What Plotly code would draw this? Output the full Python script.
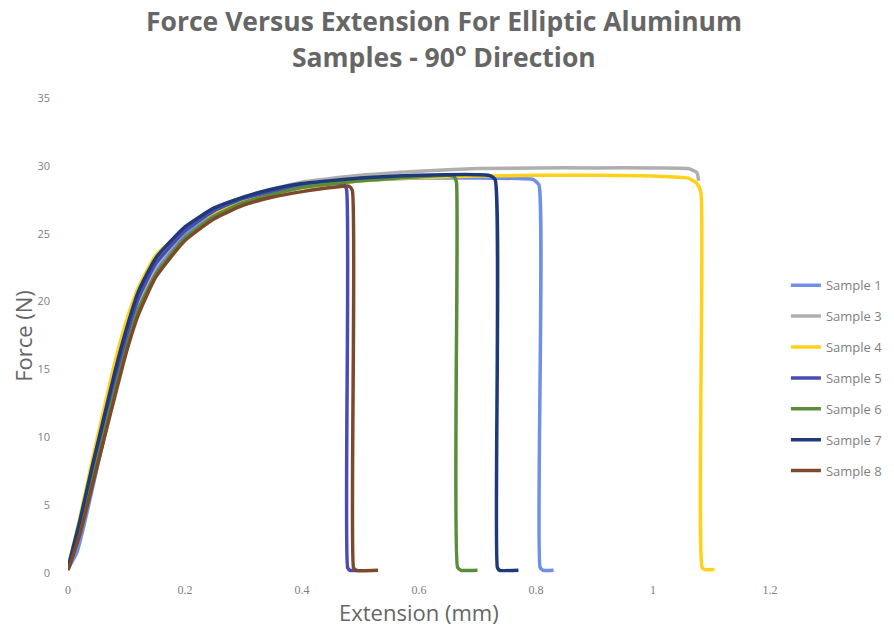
import plotly.graph_objects as go

# ---- data ----
names = ["Sample 1", "Sample 3", "Sample 4", "Sample 5", "Sample 6", "Sample 7", "Sample 8"]
colors = ["#6F8FE8", "#AFAFAF", "#FFD21A", "#4B4BB8", "#5B8C3A", "#1F3A78", "#7B4A2A"]

x1 = [0, 0.015, 0.03, 0.05, 0.07, 0.09, 0.11, 0.13, 0.16, 0.20, 0.25, 0.30, 0.35, 0.40, 0.50, 0.60, 0.70, 0.78, 0.795, 0.805, 0.807, 0.812, 0.83]
y1 = [0.3, 1.5, 4.0, 7.8, 11.5, 15.0, 18.0, 20.5, 23.0, 25.0, 26.6, 27.5, 28.1, 28.5, 28.9, 29.1, 29.1, 29.05, 29.0, 28.6, 0.4, 0.2, 0.2]

x3 = [0, 0.02, 0.04, 0.06, 0.08, 0.10, 0.12, 0.15, 0.20, 0.25, 0.30, 0.35, 0.40, 0.50, 0.60, 0.70, 0.80, 0.90, 1.00, 1.06, 1.075, 1.078]
y3 = [0.4, 3.6, 7.2, 10.6, 14.0, 17.2, 19.9, 22.6, 25.2, 26.8, 27.7, 28.3, 28.8, 29.3, 29.6, 29.8, 29.85, 29.85, 29.85, 29.8, 29.5, 28.9]

x4 = [0, 0.02, 0.04, 0.06, 0.08, 0.10, 0.12, 0.15, 0.20, 0.25, 0.30, 0.35, 0.40, 0.50, 0.60, 0.70, 0.80, 0.90, 1.00, 1.06, 1.075, 1.082, 1.084, 1.09, 1.105]
y4 = [0.4, 4.0, 8.0, 11.8, 15.5, 18.6, 21.0, 23.4, 25.3, 26.6, 27.4, 28.0, 28.4, 28.9, 29.15, 29.25, 29.3, 29.3, 29.25, 29.1, 28.7, 28.0, 0.4, 0.25, 0.25]

x5 = [0, 0.02, 0.04, 0.06, 0.08, 0.10, 0.12, 0.15, 0.20, 0.25, 0.30, 0.35, 0.40, 0.45, 0.47, 0.476, 0.478, 0.482, 0.495]
y5 = [0.3, 3.0, 6.8, 10.4, 14.0, 17.4, 20.2, 22.8, 25.2, 26.7, 27.6, 28.1, 28.5, 28.7, 28.7, 28.3, 0.4, 0.2, 0.2]

x6 = [0, 0.02, 0.04, 0.06, 0.08, 0.10, 0.12, 0.15, 0.20, 0.25, 0.30, 0.35, 0.40, 0.50, 0.60, 0.65, 0.66, 0.664, 0.666, 0.672, 0.70]
y6 = [0.3, 3.2, 6.6, 10.0, 13.4, 16.6, 19.4, 22.0, 24.7, 26.3, 27.3, 27.9, 28.4, 28.9, 29.2, 29.3, 29.2, 28.8, 0.4, 0.2, 0.2]

x7 = [0, 0.02, 0.04, 0.06, 0.08, 0.10, 0.12, 0.15, 0.20, 0.25, 0.30, 0.35, 0.40, 0.50, 0.60, 0.70, 0.72, 0.73, 0.734, 0.738, 0.77]
y7 = [0.4, 3.8, 7.6, 11.2, 14.8, 18.0, 20.7, 23.2, 25.5, 26.9, 27.7, 28.3, 28.7, 29.1, 29.3, 29.35, 29.3, 29.0, 0.4, 0.2, 0.2]

x8 = [0, 0.02, 0.04, 0.06, 0.08, 0.10, 0.12, 0.15, 0.20, 0.25, 0.30, 0.35, 0.40, 0.45, 0.48, 0.486, 0.488, 0.492, 0.53]
y8 = [0.2, 2.8, 6.2, 9.6, 13.0, 16.3, 19.0, 21.8, 24.5, 26.1, 27.1, 27.7, 28.1, 28.4, 28.5, 28.2, 0.4, 0.2, 0.2]

x_ticks = [0, 0.2, 0.4, 0.6, 0.8, 1, 1.2]
x_tick_labels = ["0", "0.2", "0.4", "0.6", "0.8", "1", "1.2"]
y_ticks = [0, 5, 10, 15, 20, 25, 30, 35]

title_line1 = "Force Versus Extension For Elliptic Aluminum"
title_line2 = "Samples - 90<sup>o</sup> Direction"
x_title = "Extension (mm)"
y_title = "Force (N)"

series_x = [x1, x3, x4, x5, x6, x7, x8]
series_y = [y1, y3, y4, y5, y6, y7, y8]

fig = go.Figure()
for n, c, xs, ys in zip(names, colors, series_x, series_y):
    fig.add_trace(go.Scatter(x=xs, y=ys, mode="lines", name=n, legendgroup=n,
                             line=dict(color=c, width=3.5, shape="spline", smoothing=0.5)))

title_font = dict(family="Open Sans", size=26.5, color="#666666")
fig.add_annotation(text="<b>" + title_line1 + "</b>", xref="paper", yref="paper",
                   x=0.535, y=1.162, xanchor="center", yanchor="middle",
                   showarrow=False, font=title_font)
fig.add_annotation(text="<b>" + title_line2 + "</b>", xref="paper", yref="paper",
                   x=0.535, y=1.09, xanchor="center", yanchor="middle",
                   showarrow=False, font=title_font)

axis_title_font = dict(family="Open Sans", size=22, color="#666666")
fig.add_annotation(text=x_title, xref="paper", yref="paper",
                   x=0.5, y=-0.082, xanchor="center", yanchor="middle",
                   showarrow=False, font=axis_title_font)
fig.add_annotation(text=y_title, xref="paper", yref="paper", textangle=-90,
                   x=-0.065, y=0.5, xanchor="center", yanchor="middle",
                   showarrow=False, font=axis_title_font)

# page body has an 8px margin: size the figure so the page fits the 894x633 window
fig.update_layout(
    width=878, height=617,
    paper_bgcolor="white", plot_bgcolor="white",
    margin=dict(l=60, r=116, t=90, b=52),
    font=dict(family="Open Sans", color="#808080"),
    showlegend=True,
    legend=dict(xref="container", x=0.886, xanchor="left", y=0.41, yanchor="middle",
                font=dict(family="Open Sans", size=13, color="#7F7F7F"),
                tracegroupgap=11, bgcolor="rgba(0,0,0,0)", itemwidth=30),
    xaxis=dict(range=[0, 1.2], tickvals=x_ticks, ticktext=x_tick_labels,
               showgrid=False, zeroline=False, showline=False, ticks="",
               automargin=False, ticklabelstandoff=8,
               tickfont=dict(family="Liberation Serif", size=12, color="#808080")),
    yaxis=dict(range=[0, 35], tickvals=y_ticks,
               showgrid=False, zeroline=False, showline=False, ticks="",
               automargin=False,
               tickfont=dict(family="Open Sans", size=11, color="#808080"),
               ticklabelstandoff=17),
)

fig.write_html("out.html")
